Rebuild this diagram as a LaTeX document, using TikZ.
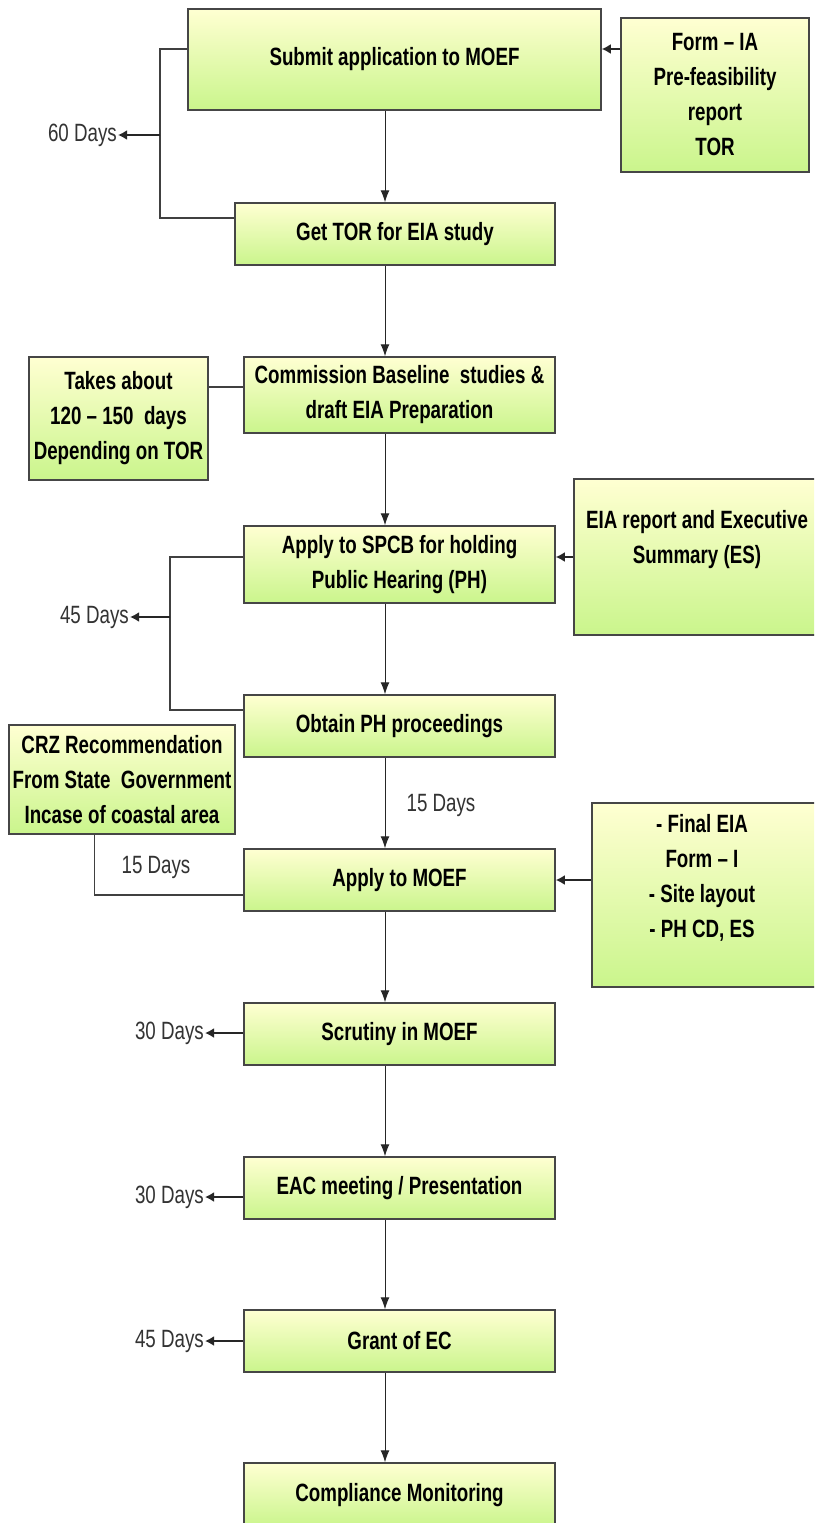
\documentclass[tikz,border=0pt]{standalone}
\usepackage{fontspec}
\setmainfont[FakeStretch=0.75]{Liberation Sans}
\usetikzlibrary{arrows.meta}
\definecolor{boxtop}{RGB}{255,255,210}
\definecolor{boxbot}{RGB}{202,245,140}
\definecolor{edge}{RGB}{70,70,70}
\begin{document}
\begin{tikzpicture}[x=1pt,y=-1pt,
 box/.style={draw=edge, line width=1.5pt, top color=boxtop, bottom color=boxbot, inner sep=0pt, align=center, font=\bfseries\fontsize{25}{35}\selectfont},
 txt/.style={align=center, font=\bfseries\fontsize{25}{35}\selectfont, inner sep=0pt},
 days/.style={font=\fontsize{25}{30}\selectfont, text=black!80, inner sep=1pt},
 flow/.style={draw=black!85, line width=1pt, -{Latex[length=12pt,width=9pt]}},
 side/.style={draw=black!85, line width=2pt, -{Latex[length=9pt,width=10pt]}},
 link/.style={draw=black!75, line width=1.8pt}]
\useasboundingbox (0,0) rectangle (814,1523);
\clip (0,0) rectangle (814,1523);
\fill[white] (0,0) rectangle (814,1523);

% main flow boxes
\node[box, minimum width=413pt, minimum height=101pt] (submit) at (394.5,59.5) {Submit application to MOEF};
\node[box, minimum width=320pt, minimum height=62pt] (gettor) at (395,234) {Get TOR for EIA study};
\node[box, minimum width=311pt, minimum height=76pt] (comm) at (399.5,395) {Commission Baseline\ \ studies \&\\draft EIA Preparation};
\node[box, minimum width=311pt, minimum height=77pt] (spcb) at (399.5,564.5) {Apply to SPCB for holding\\Public Hearing (PH)};
\node[box, minimum width=311pt, minimum height=62pt] (obtain) at (399.5,726) {Obtain PH proceedings};
\node[box, minimum width=311pt, minimum height=62pt] (apmoef) at (399.5,880) {Apply to MOEF};
\node[box, minimum width=311pt, minimum height=62pt] (scrut) at (399.5,1034) {Scrutiny in MOEF};
\node[box, minimum width=311pt, minimum height=62pt] (eac) at (399.5,1188) {EAC meeting / Presentation};
\node[box, minimum width=311pt, minimum height=62pt] (grant) at (399.5,1341) {Grant of EC};
\node[box, minimum width=311pt, minimum height=64pt] (comp) at (399.5,1495) {Compliance Monitoring};

% side boxes
\node[box, minimum width=188pt, minimum height=154pt] (form) at (715,95) {Form -- IA\\Pre-feasibility\\report\\TOR};
\node[box, minimum width=179pt, minimum height=123pt] (takes) at (118.5,418.5) {Takes about\\120 -- 150\ \ days\\Depending on TOR};
\node[box, minimum width=242pt, minimum height=156pt] (eia) at (695,557) {};
\node[txt] (eiatxt) at (697,539.5) {EIA report and Executive\\Summary (ES)};
\node[box, minimum width=226pt, minimum height=109pt] (crz) at (122,779.5) {CRZ Recommendation\\From State\ \ Government\\Incase of coastal area};
\node[box, minimum width=224pt, minimum height=184pt] (final) at (704,895) {};
\node[txt] (finaltxt) at (702,877.5) {- Final EIA\\Form -- I\\- Site layout\\- PH CD, ES};

% helper coordinates
\coordinate (ax) at (385,0);
\coordinate (y49) at (0,49);
\coordinate (y218) at (0,218);
\coordinate (y387) at (0,387);
\coordinate (y557) at (0,557);
\coordinate (y710) at (0,710);
\coordinate (y880) at (0,880);
\coordinate (y895) at (0,895);
\coordinate (x94) at (94.5,0);
\coordinate (b60a) at (160,49);
\coordinate (b60b) at (160,218);
\coordinate (b60m) at (160,135);
\coordinate (b45a) at (170,557);
\coordinate (b45b) at (170,710);
\coordinate (b45m) at (170,617);
\coordinate (crzc) at (94.5,895);

% main flow arrows
\draw[flow] (submit.south -| ax) -- (gettor.north -| ax);
\draw[flow] (gettor.south -| ax) -- (comm.north -| ax);
\draw[flow] (comm.south -| ax) -- (spcb.north -| ax);
\draw[flow] (spcb.south -| ax) -- (obtain.north -| ax);
\draw[flow] (obtain.south -| ax) -- (apmoef.north -| ax);
\draw[flow] (apmoef.south -| ax) -- (scrut.north -| ax);
\draw[flow] (scrut.south -| ax) -- (eac.north -| ax);
\draw[flow] (eac.south -| ax) -- (grant.north -| ax);
\draw[flow] (grant.south -| ax) -- (comp.north -| ax);

% inputs from right
\draw[side] (form.west |- y49) -- (submit.east |- y49);
\draw[side] (eia.west |- y557) -- (spcb.east |- y557);
\draw[side] (final.west |- y880) -- (apmoef.east |- y880);

% takes link
\draw[link] (takes.east |- y387) -- (comm.west |- y387);

% 60 days bracket
\draw[link] (submit.west |- y49) -- (b60a) -- (b60b) -- (gettor.west |- y218);
\node[days, anchor=east] (d60) at (118,135) {60 Days};
\draw[side] (b60m) -- (d60.east);

% 45 days bracket
\draw[link] (spcb.west |- y557) -- (b45a) -- (b45b) -- (obtain.west |- y710);
\node[days, anchor=east] (d45) at (130,617) {45 Days};
\draw[side] (b45m) -- (d45.east);

% 15 days labels
\node[days] (d15a) at (441,805) {15 Days};
\draw[link] (crz.south -| x94) -- (crzc) -- (apmoef.west |- y895);
\node[days] (d15b) at (156,867) {15 Days};

% lower day labels
\node[days, anchor=east] (d30a) at (205,1033) {30 Days};
\draw[side] (scrut.west |- d30a.east) -- (d30a.east);
\node[days, anchor=east] (d30b) at (205,1197) {30 Days};
\draw[side] (eac.west |- d30b.east) -- (d30b.east);
\node[days, anchor=east] (d45b) at (205,1341) {45 Days};
\draw[side] (grant.west |- d45b.east) -- (d45b.east);
\end{tikzpicture}
\end{document}
